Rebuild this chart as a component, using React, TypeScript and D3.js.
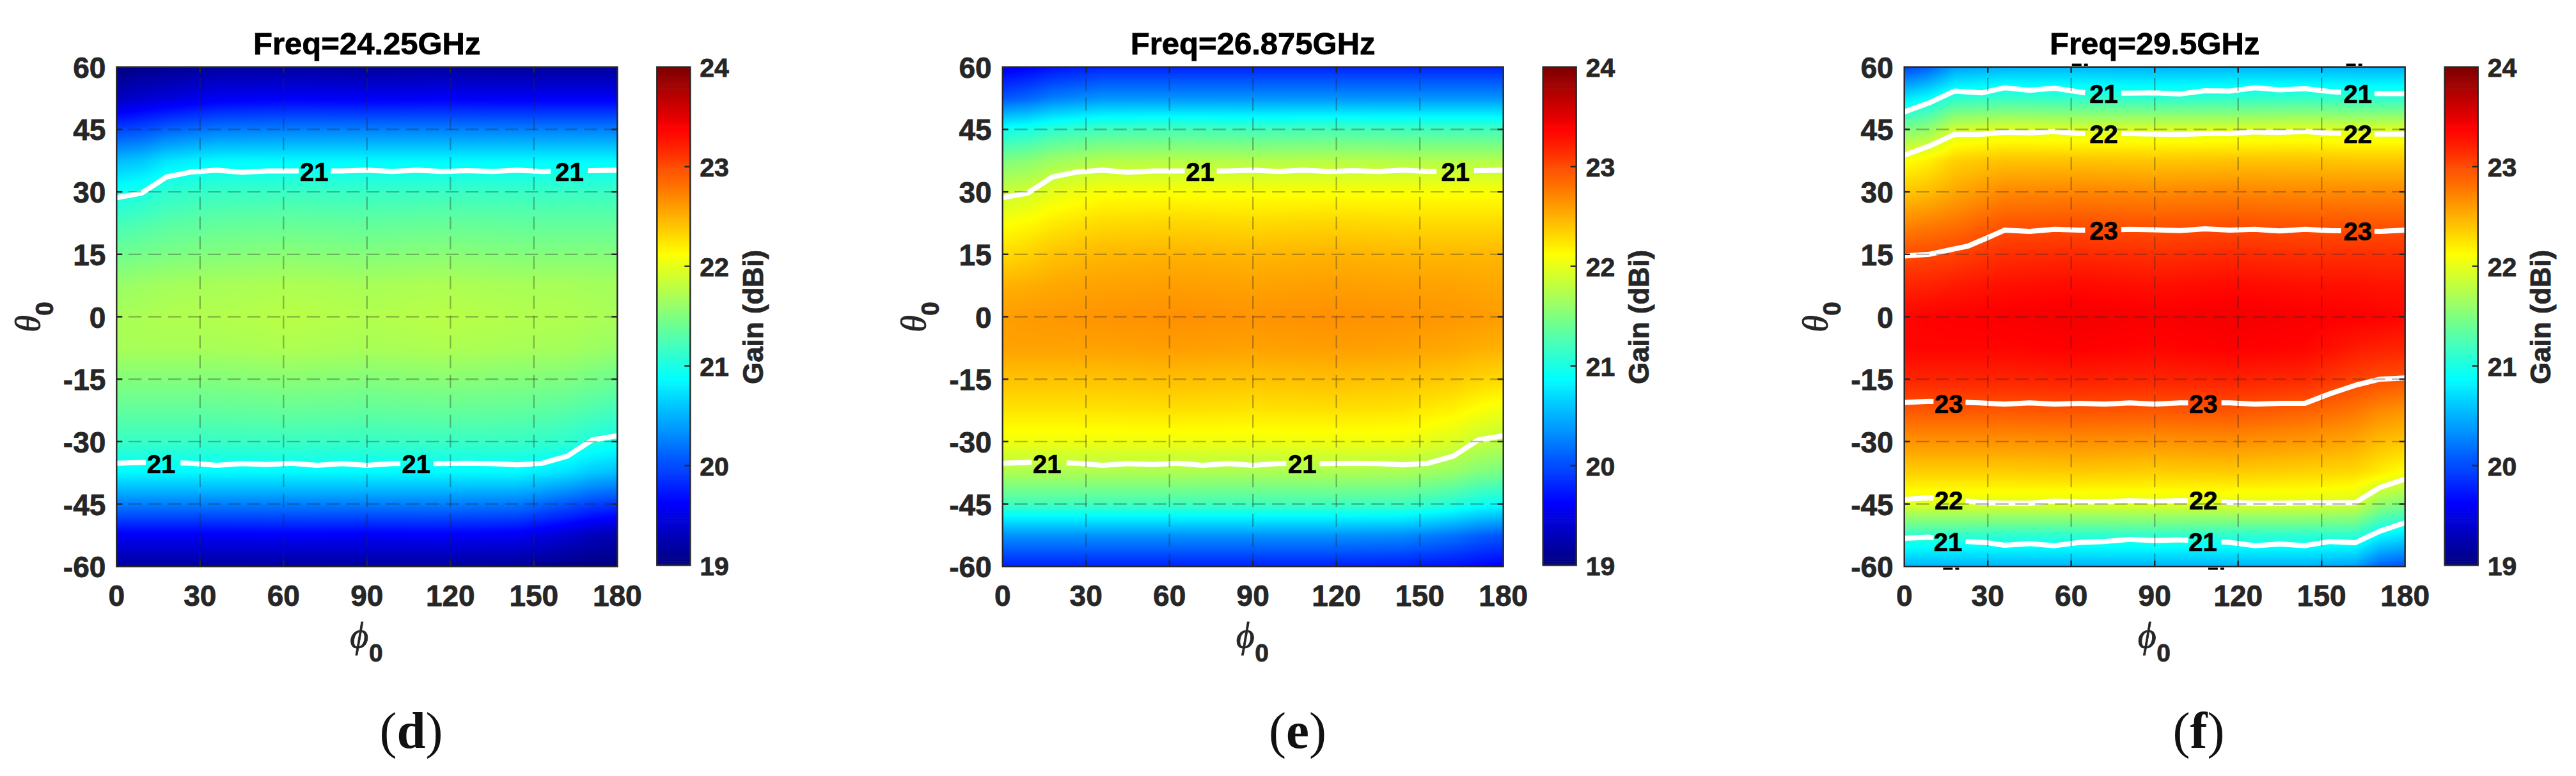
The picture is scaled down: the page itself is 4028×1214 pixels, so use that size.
import React, { useMemo } from "react";
import * as d3 from "d3";

const phiCols = [0, 9, 18, 36, 63, 90, 117, 144, 162, 171, 180];
const thetaRows = [60, 52.5, 45, 37.5, 30, 22.5, 15, 7.5, 0, -7.5, -15, -22.5, -30, -37.5, -45, -52.5, -60];

const gainD = [
  [19.0, 19.05, 19.08, 19.15, 19.15, 19.13, 19.15, 19.13, 19.13, 19.13, 19.13],
  [19.3, 19.4, 19.45, 19.56, 19.6, 19.58, 19.6, 19.58, 19.58, 19.58, 19.58],
  [19.95, 20.0, 20.1, 20.22, 20.25, 20.25, 20.25, 20.25, 20.25, 20.25, 20.25],
  [20.55, 20.6, 20.75, 20.85, 20.85, 20.85, 20.85, 20.85, 20.85, 20.85, 20.85],
  [20.95, 21.0, 21.1, 21.15, 21.16, 21.15, 21.16, 21.15, 21.15, 21.15, 21.15],
  [21.2, 21.25, 21.3, 21.35, 21.37, 21.35, 21.37, 21.35, 21.35, 21.35, 21.35],
  [21.42, 21.45, 21.48, 21.52, 21.55, 21.52, 21.55, 21.52, 21.52, 21.52, 21.52],
  [21.62, 21.65, 21.68, 21.7, 21.73, 21.7, 21.73, 21.7, 21.7, 21.68, 21.68],
  [21.7, 21.72, 21.74, 21.75, 21.78, 21.75, 21.78, 21.75, 21.74, 21.72, 21.7],
  [21.7, 21.7, 21.7, 21.7, 21.73, 21.7, 21.73, 21.7, 21.68, 21.65, 21.62],
  [21.52, 21.52, 21.52, 21.52, 21.55, 21.52, 21.55, 21.52, 21.5, 21.45, 21.42],
  [21.35, 21.35, 21.35, 21.35, 21.37, 21.35, 21.37, 21.35, 21.3, 21.25, 21.2],
  [21.15, 21.15, 21.15, 21.15, 21.16, 21.15, 21.16, 21.15, 21.1, 21.02, 20.97],
  [20.85, 20.85, 20.85, 20.85, 20.85, 20.85, 20.85, 20.85, 20.72, 20.6, 20.55],
  [20.25, 20.25, 20.25, 20.25, 20.25, 20.25, 20.25, 20.22, 20.05, 19.95, 19.9],
  [19.58, 19.58, 19.58, 19.58, 19.6, 19.58, 19.6, 19.56, 19.4, 19.3, 19.25],
  [19.15, 19.15, 19.15, 19.15, 19.15, 19.15, 19.15, 19.12, 19.05, 19.02, 19.0],
];

const gainE = [
  [19.55, 19.62, 19.7, 19.8, 19.8, 19.8, 19.8, 19.8, 19.8, 19.8, 19.8],
  [20.05, 20.12, 20.25, 20.35, 20.35, 20.35, 20.35, 20.35, 20.35, 20.35, 20.35],
  [20.95, 21.0, 21.1, 21.2, 21.22, 21.2, 21.22, 21.2, 21.2, 21.2, 21.2],
  [21.5, 21.55, 21.65, 21.75, 21.77, 21.75, 21.77, 21.75, 21.75, 21.75, 21.75],
  [21.85, 21.9, 22.0, 22.1, 22.1, 22.1, 22.1, 22.1, 22.1, 22.1, 22.1],
  [22.1, 22.14, 22.22, 22.3, 22.32, 22.3, 22.32, 22.3, 22.3, 22.3, 22.3],
  [22.3, 22.35, 22.42, 22.48, 22.5, 22.48, 22.5, 22.48, 22.48, 22.48, 22.48],
  [22.5, 22.52, 22.55, 22.58, 22.6, 22.58, 22.6, 22.58, 22.58, 22.56, 22.55],
  [22.6, 22.62, 22.63, 22.65, 22.67, 22.65, 22.67, 22.65, 22.63, 22.62, 22.6],
  [22.58, 22.58, 22.58, 22.58, 22.6, 22.58, 22.6, 22.58, 22.55, 22.52, 22.5],
  [22.42, 22.42, 22.42, 22.42, 22.44, 22.42, 22.44, 22.42, 22.38, 22.33, 22.3],
  [22.25, 22.25, 22.25, 22.25, 22.27, 22.25, 22.27, 22.25, 22.18, 22.1, 22.05],
  [22.05, 22.05, 22.05, 22.05, 22.05, 22.05, 22.05, 22.05, 21.95, 21.85, 21.8],
  [21.72, 21.72, 21.72, 21.72, 21.72, 21.7, 21.72, 21.7, 21.6, 21.5, 21.45],
  [21.2, 21.2, 21.2, 21.2, 21.2, 21.2, 21.2, 21.18, 21.05, 20.95, 20.9],
  [20.35, 20.35, 20.35, 20.35, 20.35, 20.35, 20.35, 20.32, 20.2, 20.1, 20.05],
  [19.78, 19.78, 19.78, 19.78, 19.78, 19.78, 19.78, 19.75, 19.7, 19.65, 19.6],
];

const gainF = [
  [19.95, 20.1, 20.4, 20.5, 20.52, 20.5, 20.52, 20.5, 20.5, 20.5, 20.5],
  [20.75, 20.9, 21.1, 21.15, 21.12, 21.1, 21.12, 21.15, 21.1, 21.1, 21.1],
  [21.5, 21.6, 21.9, 21.97, 21.95, 21.95, 21.95, 21.97, 21.95, 21.95, 21.95],
  [22.1, 22.2, 22.35, 22.42, 22.42, 22.4, 22.42, 22.42, 22.4, 22.4, 22.4],
  [22.4, 22.45, 22.55, 22.7, 22.72, 22.7, 22.72, 22.7, 22.7, 22.7, 22.7],
  [22.7, 22.75, 22.8, 22.95, 22.97, 22.95, 22.97, 22.95, 22.95, 22.95, 22.95],
  [23.0, 23.02, 23.05, 23.15, 23.18, 23.15, 23.18, 23.15, 23.15, 23.15, 23.15],
  [23.2, 23.22, 23.25, 23.3, 23.33, 23.3, 23.33, 23.3, 23.3, 23.28, 23.28],
  [23.35, 23.37, 23.38, 23.4, 23.43, 23.4, 23.43, 23.4, 23.38, 23.37, 23.35],
  [23.35, 23.35, 23.35, 23.35, 23.38, 23.35, 23.38, 23.35, 23.25, 23.22, 23.2],
  [23.2, 23.2, 23.2, 23.2, 23.22, 23.2, 23.22, 23.18, 23.05, 23.0, 22.97],
  [22.95, 22.95, 22.95, 22.95, 22.97, 22.95, 22.97, 22.9, 22.8, 22.7, 22.65],
  [22.65, 22.65, 22.65, 22.65, 22.67, 22.65, 22.67, 22.62, 22.55, 22.45, 22.4],
  [22.35, 22.35, 22.35, 22.35, 22.37, 22.35, 22.37, 22.33, 22.3, 22.2, 22.1],
  [21.97, 21.97, 21.97, 21.97, 21.97, 21.97, 21.97, 21.97, 21.9, 21.6, 21.5],
  [21.12, 21.12, 21.12, 21.1, 21.1, 21.12, 21.1, 21.1, 21.1, 20.85, 20.75],
  [20.5, 20.5, 20.5, 20.5, 20.5, 20.5, 20.5, 20.5, 20.4, 20.1, 20.0],
];

type Pt = [number, number];
type Gap = [number, number];
type Label = [number, number, string];

const line21UpperNarrow: Pt[] = [
  [0, 28.6], [9, 29.7], [18, 33.6], [27, 34.8], [36, 35.2], [45, 34.7], [54, 35], [63, 35], [72, 35], [81, 35], [90, 35.2],
  [99, 34.9], [108, 35.2], [117, 34.9], [126, 35.1], [135, 34.9], [144, 35.2], [153, 34.9], [162, 35], [171, 35.1], [180, 35.2],
];
const line21LowerNarrow: Pt[] = [
  [0, -35.2], [9, -35], [18, -35], [27, -35.2], [36, -35.7], [45, -35.3], [54, -35.5], [63, -35.2], [72, -35.7], [81, -35.3], [90, -35.7],
  [99, -35.3], [108, -35.2], [117, -35.3], [126, -35.2], [135, -35.3], [144, -35.6], [153, -35.2], [162, -33.5], [171, -29.6], [180, -28.6],
];
const gapsUpperNarrow: Gap[] = [[65.5, 77], [156, 169.5]];
const gapsLowerNarrow: Gap[] = [[10.5, 23], [102, 114]];
const labelsNarrow: Label[] = [
  [71, 34.8, "21"], [162.8, 34.8, "21"], [16, -35.4, "21"], [107.7, -35.4, "21"],
];

const f21Upper: Pt[] = [
  [0, 49.2], [9, 51.4], [18, 54.2], [28, 53.8], [36, 55], [45, 54.4], [54, 54.9], [65, 53.8], [72, 53.7], [81, 53.7], [90, 53.8],
  [99, 53.5], [108, 54.3], [117, 54.2], [126, 55], [135, 54.5], [144, 54.8], [153, 54.1], [162, 53.7], [171, 53.6], [180, 53.6],
];
const f22Upper: Pt[] = [
  [0, 38.8], [9, 41], [18, 43.8], [27, 43.8], [36, 44.3], [45, 44.2], [54, 44.5], [63, 44], [72, 44], [81, 44], [90, 43.9],
  [99, 43.8], [108, 44], [117, 44], [126, 44.4], [135, 44.3], [144, 44.5], [153, 44.1], [162, 44], [171, 43.9], [180, 43.9],
];
const f23Upper: Pt[] = [
  [0, 14.6], [9, 15], [18, 16.3], [23, 17], [30, 19], [36, 20.8], [45, 20.5], [54, 21], [63, 20.8], [72, 20.8], [81, 21], [90, 20.9],
  [99, 20.7], [108, 21.1], [117, 20.8], [126, 21], [135, 20.6], [144, 21], [153, 20.7], [162, 20.6], [171, 20.5], [180, 20.8],
];
const f23Lower: Pt[] = [
  [0, -20.6], [9, -20.3], [18, -20.5], [27, -20.7], [36, -21], [45, -20.7], [54, -21], [63, -20.8], [72, -21], [81, -20.7], [90, -21],
  [99, -20.7], [108, -20.7], [117, -20.7], [126, -21], [135, -20.8], [144, -20.8], [153, -18.5], [162, -16.5], [171, -15], [180, -14.7],
];
const f22Lower: Pt[] = [
  [0, -43.9], [9, -43.5], [18, -44], [27, -44.6], [36, -44.8], [45, -44.8], [54, -44.3], [63, -44.5], [72, -44.5], [81, -44.2], [90, -44.4],
  [99, -44.2], [108, -44.3], [117, -44.6], [126, -44.8], [135, -44.8], [144, -44.7], [153, -44.7], [162, -44.7], [171, -41], [180, -39],
];
const f21Lower: Pt[] = [
  [0, -53.2], [9, -53], [18, -53.5], [22, -54], [30, -54.3], [36, -54.9], [45, -54.5], [54, -55], [63, -54.2], [72, -54], [81, -53.5], [90, -53.8],
  [99, -53.6], [108, -53.9], [117, -54.2], [126, -55], [135, -54.6], [144, -55], [153, -54], [162, -54.3], [171, -51.5], [180, -49.5],
];
const gapsFUpper: Gap[] = [[65, 78], [157, 169]];
const gapsFLower: Gap[] = [[10.5, 22], [102, 114]];
const labelsF: Label[] = [
  [71.7, 53.5, "21"], [163, 53.5, "21"], [71.7, 43.8, "22"], [163, 43.8, "22"], [71.7, 20.6, "23"], [163, 20.5, "23"],
  [16, -21, "23"], [107.5, -21, "23"], [16, -44.2, "22"], [107.5, -44.2, "22"], [15.7, -54.2, "21"], [107.3, -54.2, "21"],
];
// Fragments of clipped contour labels that stick out past the frame of panel (f): [phi, edge of theta]
const clippedBitsF: Pt[] = [[63, 60], [161.6, 60], [16.7, -60], [112, -60]];

const phiTicks = [0, 30, 60, 90, 120, 150, 180];
const thetaTicks = [60, 45, 30, 15, 0, -15, -30, -45, -60];
const gainTicks = [19, 20, 21, 22, 23, 24];
const jetStops = [19, 19.625, 20.875, 22.125, 23.375, 24];
const jetColors = ["#00007f", "#0000ff", "#00ffff", "#ffff00", "#ff0000", "#7f0000"];

type Panel = {
  title: string;
  caption: string;
  captionX: number;
  dx: number;
  grid: number[][];
  lines: { pts: Pt[]; gaps: Gap[] }[];
  labels: Label[];
  bits: Pt[];
};

const narrowLines = [
  { pts: line21UpperNarrow, gaps: gapsUpperNarrow },
  { pts: line21LowerNarrow, gaps: gapsLowerNarrow },
];

const panels: Panel[] = [
  { title: "Freq=24.25GHz", caption: "d", captionX: 643, dx: 0, grid: gainD, lines: narrowLines, labels: labelsNarrow, bits: [] },
  { title: "Freq=26.875GHz", caption: "e", captionX: 2029, dx: 1385.4, grid: gainE, lines: narrowLines, labels: labelsNarrow, bits: [] },
  {
    title: "Freq=29.5GHz", caption: "f", captionX: 3438, dx: 2795.4, grid: gainF,
    lines: [
      { pts: f21Upper, gaps: gapsFUpper }, { pts: f22Upper, gaps: gapsFUpper }, { pts: f23Upper, gaps: gapsFUpper },
      { pts: f23Lower, gaps: gapsFLower }, { pts: f22Lower, gaps: gapsFLower }, { pts: f21Lower, gaps: gapsFLower },
    ],
    labels: labelsF, bits: clippedBitsF,
  },
];

const INK = "#262626";
const SANS = "'Liberation Sans', Arial, sans-serif";
const SERIF = "'Liberation Serif', 'Times New Roman', serif";
const X0 = 182.3, X1 = 965.3, Y0 = 104.8, Y1 = 886.2;
const CB0 = 1027.3, CB1 = 1079.3, CBY1 = 884.3;
const SW = 2.4;

const color = d3.scaleLinear<string>().domain(jetStops).range(jetColors).interpolate(d3.interpolateRgb).clamp(true);

function lookup(xs: number[], v: number, desc: boolean): [number, number] {
  const n = xs.length;
  let i = 0;
  while (i < n - 2 && (desc ? v < xs[i + 1] : v > xs[i + 1])) i++;
  return [i, (v - xs[i]) / (xs[i + 1] - xs[i])];
}

function heatUrl(grid: number[][], w: number, h: number): string {
  const c = document.createElement("canvas");
  c.width = w;
  c.height = h;
  const ctx = c.getContext("2d")!;
  const img = ctx.createImageData(w, h);
  const phi = d3.scaleLinear().domain([0, w]).range([0, 180]);
  const theta = d3.scaleLinear().domain([0, h]).range([60, -60]);
  const lut = d3.range(1001).map((k) => d3.rgb(color(19 + (k / 1000) * 5)));
  for (let y = 0; y < h; y++) {
    const [r, fr] = lookup(thetaRows, theta(y + 0.5), true);
    for (let x = 0; x < w; x++) {
      const [q, fq] = lookup(phiCols, phi(x + 0.5), false);
      const v =
        grid[r][q] * (1 - fq) * (1 - fr) + grid[r][q + 1] * fq * (1 - fr) +
        grid[r + 1][q] * (1 - fq) * fr + grid[r + 1][q + 1] * fq * fr;
      const col = lut[Math.max(0, Math.min(1000, Math.round(((v - 19) / 5) * 1000)))];
      const o = (y * w + x) * 4;
      img.data[o] = col.r; img.data[o + 1] = col.g; img.data[o + 2] = col.b; img.data[o + 3] = 255;
    }
  }
  ctx.putImageData(img, 0, 0);
  return c.toDataURL();
}

function cutLine(pts: Pt[], gaps: Gap[]): Pt[][] {
  const at = (p: number): Pt => {
    for (let i = 0; i < pts.length - 1; i++) {
      if (p >= pts[i][0] && p <= pts[i + 1][0]) {
        const t = (p - pts[i][0]) / (pts[i + 1][0] - pts[i][0]);
        return [p, pts[i][1] + t * (pts[i + 1][1] - pts[i][1])];
      }
    }
    return pts[pts.length - 1];
  };
  const out: Pt[][] = [];
  let start = 0;
  let first: Pt[] = [];
  for (const [a, b] of gaps) {
    out.push([...first, ...pts.filter((d) => d[0] >= start && d[0] < a), at(a)]);
    start = b;
    first = [at(b)];
  }
  out.push([...first, ...pts.filter((d) => d[0] > start)]);
  return out;
}

function PanelView({ p }: { p: Panel }) {
  const x = d3.scaleLinear().domain([0, 180]).range([X0, X1]);
  const y = d3.scaleLinear().domain([-60, 60]).range([Y1, Y0]);
  const cb = d3.scaleLinear().domain([19, 24]).range([CBY1, Y0]);
  const url = useMemo(() => heatUrl(p.grid, 783, 781), [p.grid]);
  const path = d3.line<Pt>().x((d) => x(d[0])).y((d) => y(d[1]));
  const levels = d3.range(256).map((i) => 19 + (i / 255) * 5);
  const cbStep = (CBY1 - Y0) / 256;
  const tick = { stroke: INK, strokeWidth: SW };
  const gridStyle = { stroke: INK, strokeWidth: SW, strokeOpacity: 0.33, strokeDasharray: "20.5 10.5" };
  const cx = (X0 + X1) / 2;
  return (
    <g transform={`translate(${p.dx},0)`}>
      {p.bits.map((b, i) => {
        const out = b[1] > 0 ? -3.5 : 3.5;
        return (
          <g key={i} stroke="#000" strokeWidth={3.5}>
            <line x1={x(b[0]) - 12} x2={x(b[0]) + 3} y1={y(b[1]) + out} y2={y(b[1]) + out} />
            <line x1={x(b[0]) + 7} x2={x(b[0]) + 13} y1={y(b[1]) + out} y2={y(b[1]) + out} />
          </g>
        );
      })}
      <image href={url} x={X0} y={Y0} width={X1 - X0} height={Y1 - Y0} preserveAspectRatio="none" />
      {p.lines.flatMap((l, i) =>
        cutLine(l.pts, l.gaps).map((seg, j) => (
          <path key={`${i}-${j}`} d={path(seg) ?? ""} fill="none" stroke="#fff" strokeWidth={8} strokeLinejoin="round" />
        ))
      )}
      <g fontFamily={SANS} fontWeight={700} fontSize={40} fill="#000" stroke="#000" strokeWidth={0.7} textAnchor="middle">
        {p.labels.map((l, i) => (
          <text key={i} x={x(l[0])} y={y(l[1]) + 14}>{l[2]}</text>
        ))}
      </g>
      {phiTicks.slice(1, -1).map((t) => (
        <line key={t} x1={x(t)} x2={x(t)} y1={Y1} y2={Y0} style={gridStyle} />
      ))}
      {thetaTicks.slice(1, -1).map((t) => (
        <line key={t} x1={X1} x2={X0} y1={y(t)} y2={y(t)} style={gridStyle} />
      ))}
      {phiTicks.slice(1, -1).map((t) => (
        <g key={t} style={tick}>
          <line x1={x(t)} x2={x(t)} y1={Y1} y2={Y1 - 9} />
          <line x1={x(t)} x2={x(t)} y1={Y0} y2={Y0 + 9} />
        </g>
      ))}
      {thetaTicks.slice(1, -1).map((t) => (
        <g key={t} style={tick}>
          <line y1={y(t)} y2={y(t)} x1={X0} x2={X0 + 9} />
          <line y1={y(t)} y2={y(t)} x1={X1} x2={X1 - 9} />
        </g>
      ))}
      <rect x={X0} y={Y0} width={X1 - X0} height={Y1 - Y0} fill="none" stroke={INK} strokeWidth={SW} />

      {levels.map((v, i) => (
        <rect key={i} x={CB0} width={CB1 - CB0} y={CBY1 - (i + 1) * cbStep} height={cbStep + 0.6} fill={color(v)} />
      ))}
      {gainTicks.slice(1, -1).map((t) => (
        <line key={t} x1={CB1} x2={CB1 - 9} y1={cb(t)} y2={cb(t)} style={tick} />
      ))}
      <rect x={CB0} y={Y0} width={CB1 - CB0} height={CBY1 - Y0} fill="none" stroke={INK} strokeWidth={SW} />

      <g fontFamily={SANS} fontWeight={700} fill={INK} stroke={INK} strokeWidth={0.8}>
        <g fontSize={46} textAnchor="middle">
          {phiTicks.map((t) => (
            <text key={t} x={x(t)} y={947.5}>{t}</text>
          ))}
        </g>
        <g fontSize={46} textAnchor="end">
          {thetaTicks.map((t) => (
            <text key={t} x={X0 - 17} y={y(t) + 17}>{t}</text>
          ))}
        </g>
        <g fontSize={41}>
          {gainTicks.map((t) => (
            <text key={t} x={CB1 + 15} y={cb(t) + 15.5}>{t}</text>
          ))}
        </g>
        <text fontSize={44} textAnchor="middle" transform={`translate(1193,496) rotate(-90)`}>Gain (dBi)</text>
        <text fontSize={49} fill="#000" stroke="#000" textAnchor="middle" x={cx} y={85}>{p.title}</text>
      </g>

      <text x={cx - 12} y={1013} fill={INK} stroke={INK} strokeWidth={0.8} textAnchor="middle" fontFamily={SERIF} fontStyle="italic" fontSize={56}>ϕ</text>
      <text x={cx + 14} y={1035} fill={INK} stroke={INK} strokeWidth={0.8} textAnchor="middle" fontFamily={SANS} fontWeight={700} fontSize={39}>0</text>
      <g transform="translate(62,506.5) rotate(-90)">
        <text x={0} y={0} fill={INK} stroke={INK} strokeWidth={0.8} textAnchor="middle" fontFamily={SERIF} fontStyle="italic" fontSize={54}>θ</text>
        <text x={23.5} y={21} fill={INK} stroke={INK} strokeWidth={0.8} textAnchor="middle" fontFamily={SANS} fontWeight={700} fontSize={39}>0</text>
      </g>
      <text x={p.captionX - p.dx} y={1170} textAnchor="middle" fontFamily={SERIF} fontSize={81} fill="#111">
        (<tspan fontWeight={700}>{p.caption}</tspan>)
      </text>
    </g>
  );
}

export default function App() {
  return (
    <svg width={4028} height={1214} viewBox="0 0 4028 1214" style={{ position: "fixed", left: 0, top: 0, background: "#fff" }}>
      {panels.map((p) => (
        <PanelView key={p.title} p={p} />
      ))}
    </svg>
  );
}
